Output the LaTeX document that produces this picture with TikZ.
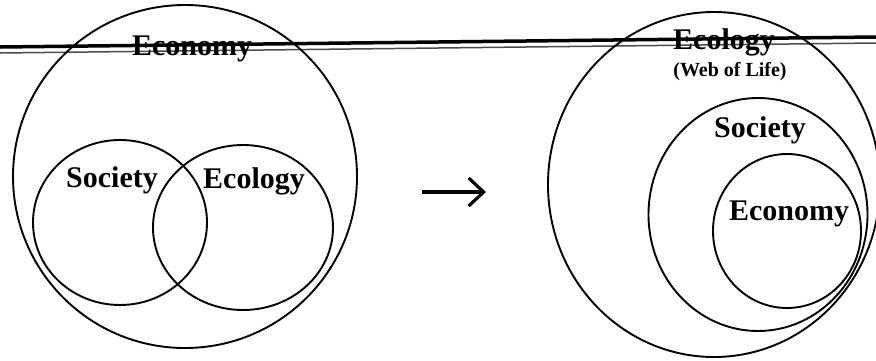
\documentclass[tikz,border=0pt]{standalone}
\usepackage{fontspec}
\setmainfont{Liberation Serif}
\usepackage{tikz}
\usetikzlibrary{arrows.meta, shapes.geometric, positioning, calc}

\begin{document}
\begin{tikzpicture}[
        x=1pt, y=-1pt,
        ring/.style={ellipse, draw, line width=1.9pt, inner sep=0pt},
        term/.style={anchor=base, inner sep=0pt, font={\fontsize{30}{36}\selectfont\bfseries}},
        subterm/.style={anchor=base, inner sep=0pt, font={\fontsize{20}{24}\selectfont\bfseries}},
        shiftarrow/.style={line width=3.2pt, -{Straight Barb[length=15pt, width=28pt]}},
        scanrule/.style={line width=3.5pt},
        scanruletwo/.style={line width=1.5pt, black!70}
    ]
        \clip (0,0) rectangle (876,360);

        % Rules across the top
        \coordinate (ruleAw) at (0,47);
        \coordinate (ruleAe) at (876,37);
        \coordinate (ruleBw) at (0,53);
        \coordinate (ruleBe) at (876,43);
        \draw [scanrule] (ruleAw) -- (ruleAe);
        \draw [scanruletwo] (ruleBw) -- (ruleBe);

        % Left: economy contains society and ecology
        \node (econL) [ring, minimum width=344pt, minimum height=343pt] at (185,176.5) {};
        \node (socL) [ring, minimum width=174pt, minimum height=165pt] at (120,222.5) {};
        \node (ecoL) [ring, minimum width=180pt, minimum height=165pt] at (243,227.5) {};

        \node (econLtext) [term] at (192,55) {Economy};
        \node (socLtext) [term] at (112,187) {Society};
        \node (ecoLtext) [term] at (254,188) {Ecology};

        % Arrow
        \coordinate (shiftfrom) at (422,192);
        \coordinate (shiftto) at (486,192);
        \draw [shiftarrow] (shiftfrom) -- (shiftto);

        % Right: nested circles
        \node (ecoR) [ring, minimum width=332pt, minimum height=345pt] at (714,184.5) {};
        \node (socR) [ring, minimum width=219pt, minimum height=233pt] at (758,214.5) {};
        \node (econR) [ring, minimum width=148pt, minimum height=154pt] at (787,231) {};

        \node (ecoRtext) [term] at (724,49) {Ecology};
        \node (webRtext) [subterm] at (730,76) {(Web of Life)};
        \node (socRtext) [term] at (760,137) {Society};
        \node (econRtext) [term] at (789,220) {Economy};
    \end{tikzpicture}
\end{document}
